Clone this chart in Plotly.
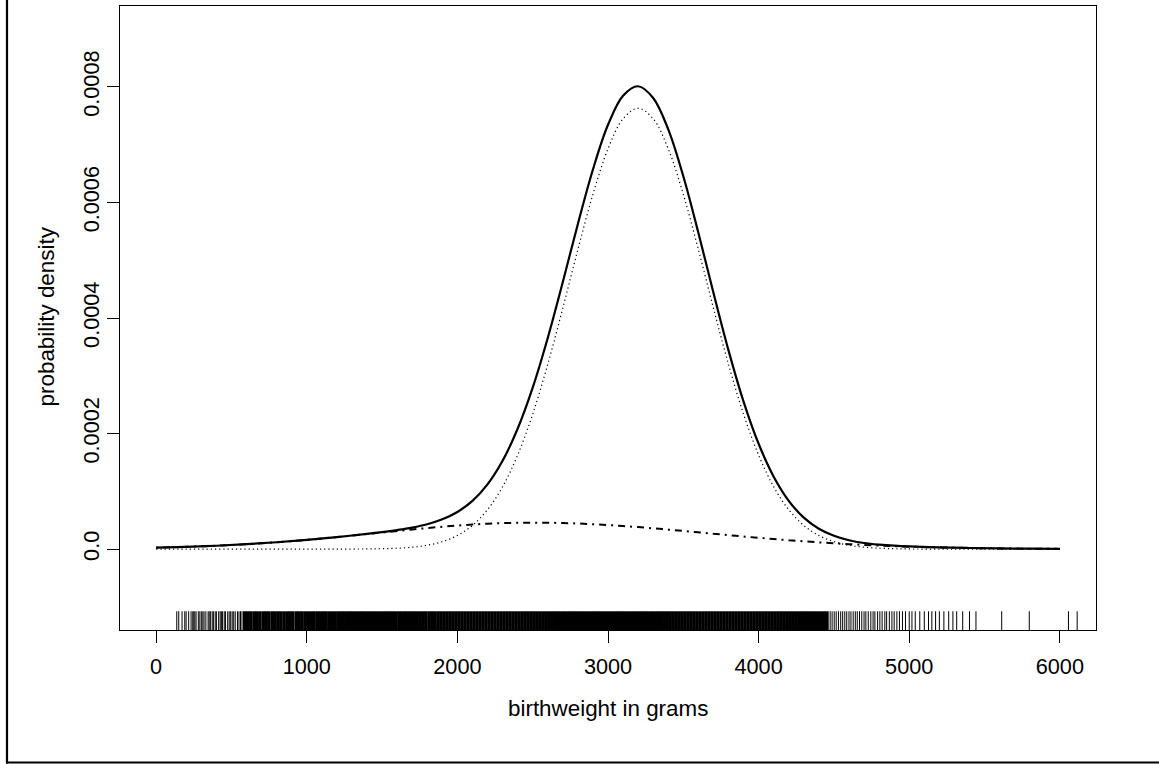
import plotly.graph_objects as go

# ---- data ----
X_GRID = [0, 200, 400, 600, 800, 1000, 1200, 1400, 1500, 1600, 1700, 1800, 1900,
          2000, 2100, 2200, 2300, 2400, 2500, 2600, 2700, 2800, 2900, 3000, 3100,
          3200, 3300, 3400, 3500, 3600, 3700, 3800, 3900, 4000, 4100, 4200, 4300,
          4400, 4500, 4600, 4700, 4800, 4900, 5000, 5200, 5400, 5600, 5800, 6000]

MIXTURE = [2.5e-6, 3.9e-6, 5.8e-6, 8.5e-6, 1.19e-5, 1.60e-5, 2.08e-5, 2.63e-5, 2.94e-5,
           3.30e-5, 3.73e-5, 4.31e-5, 5.16e-5, 6.43e-5, 8.35e-5, 1.121e-4, 1.529e-4,
           2.083e-4, 2.794e-4, 3.654e-4, 4.622e-4, 5.628e-4, 6.570e-4, 7.344e-4, 7.848e-4,
           8.011e-4, 7.808e-4, 7.264e-4, 6.453e-4, 5.475e-4, 4.437e-4, 3.440e-4, 2.554e-4,
           1.823e-4, 1.253e-4, 8.36e-5, 5.45e-5, 3.52e-5, 2.30e-5, 1.53e-5, 1.06e-5,
           7.8e-6, 5.9e-6, 4.6e-6, 2.9e-6, 1.9e-6, 1.2e-6, 7e-7, 4e-7]

COMPONENT_MAIN = [0, 0, 0, 0, 0, 0, 0, 3e-7, 7e-7, 1.6e-6, 3.3e-6, 6.7e-6, 1.29e-5,
                  2.35e-5, 4.10e-5, 6.82e-5, 1.079e-4, 1.627e-4, 2.336e-4, 3.198e-4,
                  4.171e-4, 5.185e-4, 6.139e-4, 6.927e-4, 7.448e-4, 7.63e-4, 7.448e-4,
                  6.927e-4, 6.139e-4, 5.185e-4, 4.171e-4, 3.198e-4, 2.336e-4, 1.627e-4,
                  1.079e-4, 6.82e-5, 4.10e-5, 2.35e-5, 1.29e-5, 6.7e-6, 3.3e-6, 1.6e-6,
                  7e-7, 3e-7, 0, 0, 0, 0, 0]

COMPONENT_WIDE = [2.5e-6, 3.9e-6, 5.8e-6, 8.5e-6, 1.19e-5, 1.60e-5, 2.08e-5, 2.60e-5,
                  2.87e-5, 3.14e-5, 3.40e-5, 3.64e-5, 3.87e-5, 4.08e-5, 4.25e-5, 4.39e-5,
                  4.50e-5, 4.56e-5, 4.58e-5, 4.56e-5, 4.51e-5, 4.43e-5, 4.31e-5, 4.17e-5,
                  4.00e-5, 3.81e-5, 3.60e-5, 3.37e-5, 3.14e-5, 2.90e-5, 2.66e-5, 2.42e-5,
                  2.18e-5, 1.96e-5, 1.74e-5, 1.54e-5, 1.35e-5, 1.17e-5, 1.01e-5, 8.6e-6,
                  7.3e-6, 6.2e-6, 5.2e-6, 4.3e-6, 2.9e-6, 1.9e-6, 1.2e-6, 7e-7, 4e-7]

RUG_SPARSE = [137, 150, 172, 190, 199, 216, 232, 243, 250, 257, 265, 280, 290, 300, 310,
              318, 330, 345, 352, 360, 372, 380, 392, 400, 415, 425, 433, 440, 452, 460,
              475, 485, 495, 505, 515, 525, 540, 550, 560, 570, 580,
              4462, 4475, 4488, 4502, 4515, 4530, 4545, 4558, 4572, 4585, 4600, 4613,
              4628, 4642, 4655, 4670, 4685, 4700, 4712, 4728, 4745, 4760, 4772, 4790,
              4805, 4820, 4838, 4850, 4868, 4885, 4900, 4918, 4935, 4955, 4975, 5000,
              5018, 5040, 5070, 5100, 5128, 5150, 5175, 5200, 5230, 5262, 5290, 5315,
              5355, 5400, 5443, 5614, 5797, 6057, 6115]

RUG_DENSE = [int(v) for v in """
592 611 630 652 670 689 711 730 749 771 790 810 829 850 871 890 908 931 950 969 990
1011 1030 1049 1070 1090 1111 1129 1150 1170 1189 1210 1231 1249 1270 1290 1309 1330
1351 1370 1389 1410 1430 1449 1470 1491 1510 1530 1549 1570 1590 1611 1630 1650 1669
1690 1710 1729 1750 1770 1790 1811 1830 1849 1870 1890 1910 1930 1950 1970 1990 2010
2030 2050 2070 2090 2110 2130 2150 2170 2190 2210 2230 2250 2270 2290 2310 2330 2350
2370 2390 2410 2430 2450 2470 2490 2510 2530 2550 2570 2590 2610 2630 2650 2670 2690
2710 2730 2750 2770 2790 2810 2830 2850 2870 2890 2910 2930 2950 2970 2990 3010 3030
3050 3070 3090 3110 3130 3150 3170 3190 3210 3230 3250 3270 3290 3310 3330 3350 3370
3390 3410 3430 3450 3470 3490 3510 3530 3550 3570 3590 3610 3630 3650 3670 3690 3710
3730 3750 3770 3790 3810 3830 3850 3870 3890 3910 3930 3950 3970 3990 4010 4030 4050
4070 4090 4110 4130 4150 4170 4190 4210 4230 4250 4270 4290 4310 4330 4350 4370 4390
4410 4430 4450
""".split()]

X_TICKS = [0, 1000, 2000, 3000, 4000, 5000, 6000]
Y_TICKS = [0.0, 0.0002, 0.0004, 0.0006, 0.0008]
Y_TICK_TEXT = ["0.0", "0.0002", "0.0004", "0.0006", "0.0008"]
X_LIM = [0, 6000]
Y_LIM = [-0.0001, 0.0009]

# R-style 4% axis extension
def ext(lim):
    d = (lim[1] - lim[0]) * 0.04
    return [lim[0] - d, lim[1] + d]

XR = ext(X_LIM)
YR = ext(Y_LIM)
rug_lo = YR[0]
rug_hi = YR[0] + 0.03 * (YR[1] - YR[0])

def rug_xy(vals):
    xs, ys = [], []
    for v in vals:
        xs += [v, v, None]
        ys += [rug_lo, rug_hi, None]
    return xs, ys

FONT = "Liberation Sans, Arial, Helvetica, sans-serif"
FS = 21.7
FS_TITLE = 22.4

fig = go.Figure()

rx, ry = rug_xy(RUG_DENSE)
fig.add_trace(go.Scatter(x=rx, y=ry, mode="lines", line=dict(color="black", width=3.4),
                         hoverinfo="skip", showlegend=False, cliponaxis=False))
rx, ry = rug_xy(RUG_SPARSE)
fig.add_trace(go.Scatter(x=rx, y=ry, mode="lines", line=dict(color="black", width=1),
                         hoverinfo="skip", showlegend=False, cliponaxis=False))

fig.add_trace(go.Scatter(x=X_GRID, y=COMPONENT_WIDE, mode="lines",
                         line=dict(color="black", width=2, dash="2px,5px,7px,5px",
                                   shape="spline", smoothing=1.0),
                         showlegend=False))
fig.add_trace(go.Scatter(x=X_GRID, y=COMPONENT_MAIN, mode="lines",
                         line=dict(color="black", width=1.2, dash="1.2px,3px",
                                   shape="spline", smoothing=1.0),
                         showlegend=False))
fig.add_trace(go.Scatter(x=X_GRID, y=MIXTURE, mode="lines",
                         line=dict(color="black", width=2.2, shape="spline", smoothing=1.0),
                         showlegend=False))

# figure slightly wider than the window so nothing draws at the window edge
W, H = 1180, 764
L, T, B = 120, 6, 134
R = W - 1096
pw, ph = W - L - R, H - T - B

def px2paper_x(px):
    return (px - L) / pw

def px2paper_y(py):
    return (H - B - py) / ph

fig.update_layout(
    width=W, height=H,
    margin=dict(l=L, r=R, t=T, b=B, pad=0),
    paper_bgcolor="white", plot_bgcolor="white",
    font=dict(family=FONT, size=FS, color="black"),
    xaxis=dict(range=XR, tickvals=X_TICKS, ticks="outside", ticklen=12, tickwidth=1,
               tickcolor="black", showline=True, linecolor="black", linewidth=1,
               mirror=True, showgrid=False, zeroline=False,
               tickfont=dict(family=FONT, size=FS, color="black"), ticklabelstandoff=5),
    yaxis=dict(range=YR, tickvals=Y_TICKS, ticktext=Y_TICK_TEXT, ticks="outside",
               ticklen=12, tickwidth=1, tickcolor="black", showline=True,
               linecolor="black", linewidth=1, mirror=True, showgrid=False,
               zeroline=False, tickangle=-90,
               tickfont=dict(family=FONT, size=FS, color="black"), ticklabelstandoff=-1),
    annotations=[
        dict(text="birthweight in grams", xref="paper", yref="paper",
             x=px2paper_x(608), y=px2paper_y(708), xanchor="center", yanchor="middle",
             showarrow=False, font=dict(family=FONT, size=FS_TITLE, color="black")),
        dict(text="probability density", xref="paper", yref="paper",
             x=px2paper_x(46.7), y=px2paper_y(316.7), xanchor="center", yanchor="middle",
             textangle=-90, showarrow=False,
             font=dict(family=FONT, size=FS_TITLE, color="black")),
    ],
    shapes=[
        dict(type="line", xref="paper", yref="paper",
             x0=px2paper_x(7), x1=px2paper_x(7), y0=px2paper_y(763.5), y1=px2paper_y(-5),
             line=dict(color="black", width=2.2), layer="above"),
        dict(type="line", xref="paper", yref="paper",
             x0=px2paper_x(6), x1=px2paper_x(1180), y0=px2paper_y(762.5), y1=px2paper_y(762.5),
             line=dict(color="black", width=2.2), layer="above"),
    ],
)

fig.write_html("out.html", config={"displayModeBar": False},
               post_script="document.body.style.margin='0';document.body.style.overflow='hidden';")
